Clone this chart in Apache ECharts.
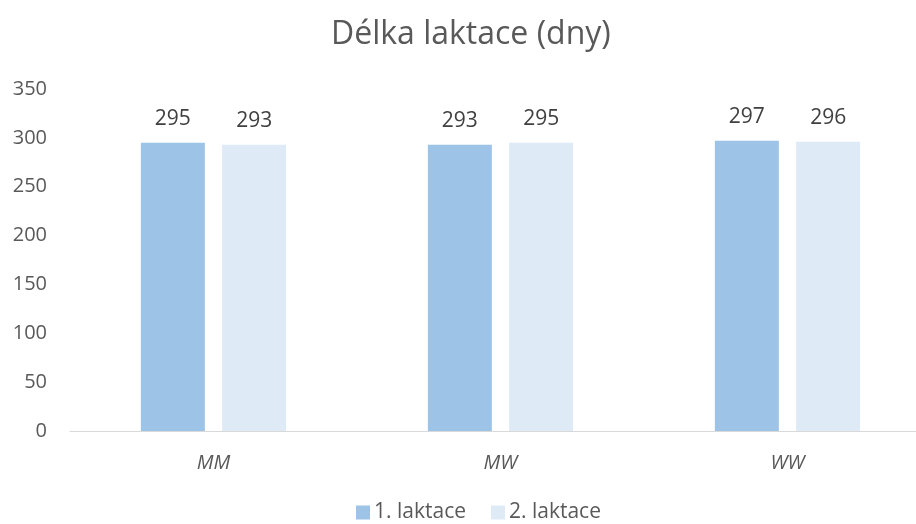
<!DOCTYPE html>
<html>
<head>
<meta charset="utf-8">
<script src="https://cdn.jsdelivr.net/npm/echarts@6/dist/echarts.min.js"></script>
<style>
  html, body { margin: 0; padding: 0; background: #fff; }
  #chart { width: 916px; height: 524px; }
</style>
</head>
<body>
<div id="chart"></div>
<script>
// data
const categories = ['MM', 'MW', 'WW']
const lakt1 = [295, 293, 297]
const lakt2 = [293, 295, 296]
const seriesNames = ['1. laktace', '2. laktace']

const font = 'Open Sans'
const chart = echarts.init(document.getElementById('chart'))
chart.setOption({
  animation: false,
  title: {
    text: 'Délka laktace (dny)',
    left: 331,
    top: 19,
    padding: 0,
    textStyle: { fontFamily: font, fontSize: 32, fontWeight: 'normal', color: '#595959' }
  },
  legend: {
    data: seriesNames,
    top: 502,
    left: 356,
    padding: 0,
    icon: 'rect',
    itemWidth: 14,
    itemHeight: 14,
    itemGap: 25,
    textStyle: { fontFamily: font, fontSize: 21, color: '#595959', padding: [0, 0, 0, -1] }
  },
  // plot area runs past the right edge, like the axis line in the reference
  grid: { left: 70, width: 861, top: 89, bottom: 93, containLabel: false, outerBoundsMode: 'none' },
  xAxis: {
    type: 'category',
    data: categories,
    axisLine: { lineStyle: { color: '#d9d9d9', width: 1 } },
    axisTick: { show: false },
    axisLabel: { fontFamily: font, fontSize: 20, fontStyle: 'italic', color: '#595959', margin: 22 }
  },
  yAxis: {
    type: 'value',
    min: 0,
    max: 350,
    interval: 50,
    splitLine: { show: false },
    axisLine: { show: false },
    axisTick: { show: false },
    axisLabel: { fontFamily: font, fontSize: 20, color: '#595959', margin: 23 }
  },
  series: [
    {
      name: seriesNames[0],
      type: 'bar',
      data: lakt1,
      barWidth: 64,
      barGap: '27%',
      itemStyle: { color: '#9dc3e6' },
      label: { show: true, position: 'top', distance: 13, fontFamily: font, fontSize: 21, color: '#404040' }
    },
    {
      name: seriesNames[1],
      type: 'bar',
      data: lakt2,
      barWidth: 64,
      barGap: '27%',
      itemStyle: { color: '#deebf7' },
      label: { show: true, position: 'top', distance: 13, fontFamily: font, fontSize: 21, color: '#404040' }
    }
  ]
})
</script>
</body>
</html>
